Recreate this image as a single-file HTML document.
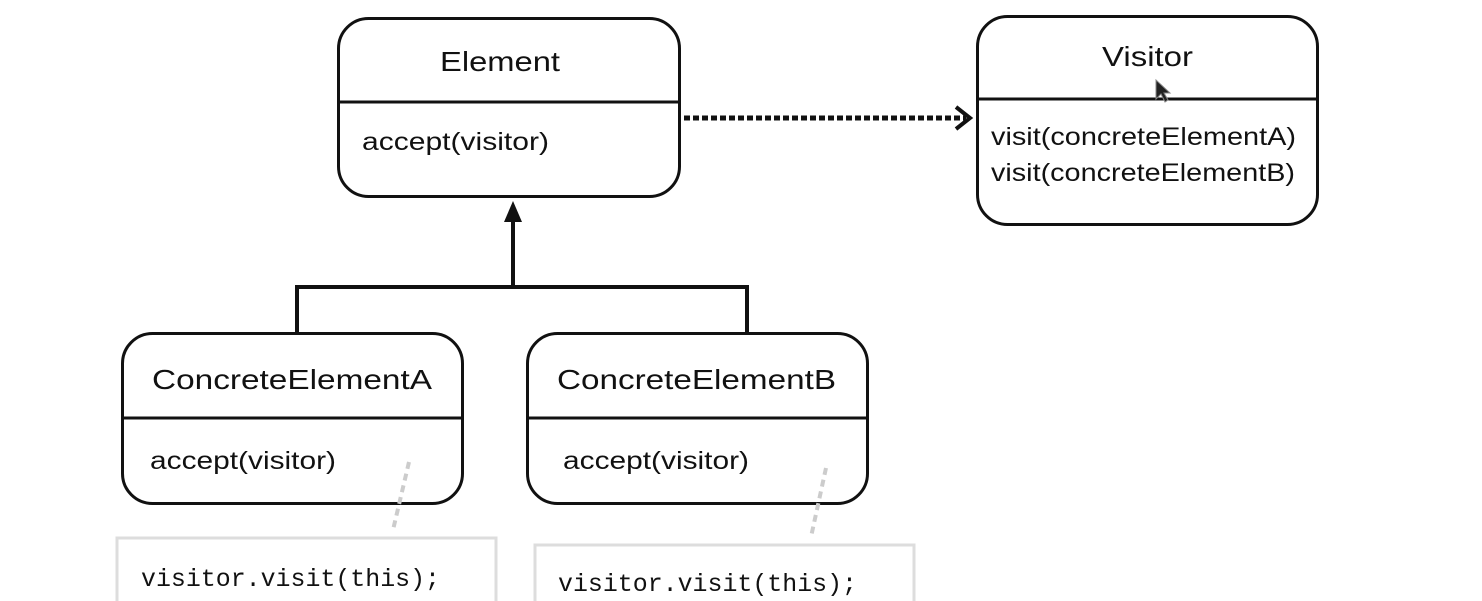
<!DOCTYPE html>
<html><head><meta charset="utf-8"><style>
html,body{margin:0;padding:0;background:#fff;}
svg{display:block;}
text{font-family:"Liberation Sans",sans-serif;fill:#111;}
.m{font-family:"Liberation Mono",monospace;}
</style></head><body>
<svg width="1482" height="601" viewBox="0 0 1482 601" xmlns="http://www.w3.org/2000/svg">
<g fill="none" stroke="#111" stroke-width="3">
<rect x="338.5" y="18.5" width="341" height="178" rx="30"/>
<line x1="338" y1="102" x2="680" y2="102"/>
<rect x="977.5" y="16.5" width="340" height="208" rx="30"/>
<line x1="977" y1="99" x2="1318" y2="99"/>
<rect x="122.5" y="333.5" width="340" height="170" rx="30"/>
<line x1="122" y1="418" x2="463" y2="418"/>
<rect x="527.5" y="333.5" width="340" height="170" rx="30"/>
<line x1="527" y1="418" x2="868" y2="418"/>
</g>
<line x1="684" y1="118" x2="966" y2="118" stroke="#111" stroke-width="5" stroke-dasharray="6,3"/>
<polyline points="956,107 970,118 956,129" fill="none" stroke="#111" stroke-width="4"/>
<g stroke="#111" stroke-width="4" fill="none">
<line x1="513" y1="220" x2="513" y2="287"/>
<polyline points="297,333 297,287 747,287 747,333"/>
</g>
<polygon points="513,201 504,222 522,222" fill="#111"/>
<g stroke="#ccc" stroke-width="4" stroke-dasharray="7,5" fill="none">
<line x1="409" y1="462" x2="393" y2="530"/>
<line x1="826" y1="468" x2="811" y2="537"/>
</g>
<g fill="none" stroke="#ddd" stroke-width="3">
<rect x="117" y="538" width="379" height="80"/>
<rect x="535" y="545" width="379" height="80"/>
</g>
<text x="440" y="71" font-size="28" textLength="120" lengthAdjust="spacingAndGlyphs">Element</text>
<text x="362" y="150" font-size="25" textLength="187" lengthAdjust="spacingAndGlyphs">accept(visitor)</text>
<text x="1102" y="66" font-size="28" textLength="91" lengthAdjust="spacingAndGlyphs">Visitor</text>
<text x="991" y="145" font-size="25" textLength="305" lengthAdjust="spacingAndGlyphs">visit(concreteElementA)</text>
<text x="991" y="181" font-size="25" textLength="304" lengthAdjust="spacingAndGlyphs">visit(concreteElementB)</text>
<text x="152" y="389" font-size="28" textLength="280" lengthAdjust="spacingAndGlyphs">ConcreteElementA</text>
<text x="557" y="389" font-size="28" textLength="279" lengthAdjust="spacingAndGlyphs">ConcreteElementB</text>
<text x="150" y="469" font-size="25" textLength="186" lengthAdjust="spacingAndGlyphs">accept(visitor)</text>
<text x="563" y="469" font-size="25" textLength="186" lengthAdjust="spacingAndGlyphs">accept(visitor)</text>
<text class="m" x="141" y="586" font-size="25" textLength="299" lengthAdjust="spacingAndGlyphs">visitor.visit(this);</text>
<text class="m" x="558" y="591" font-size="25" textLength="299" lengthAdjust="spacingAndGlyphs">visitor.visit(this);</text>
<polygon points="1156,80 1156,99 1161,94 1165,102 1168,100 1164,93 1170,93" fill="#222" stroke="#888" stroke-width="1"/>
</svg>
</body></html>
